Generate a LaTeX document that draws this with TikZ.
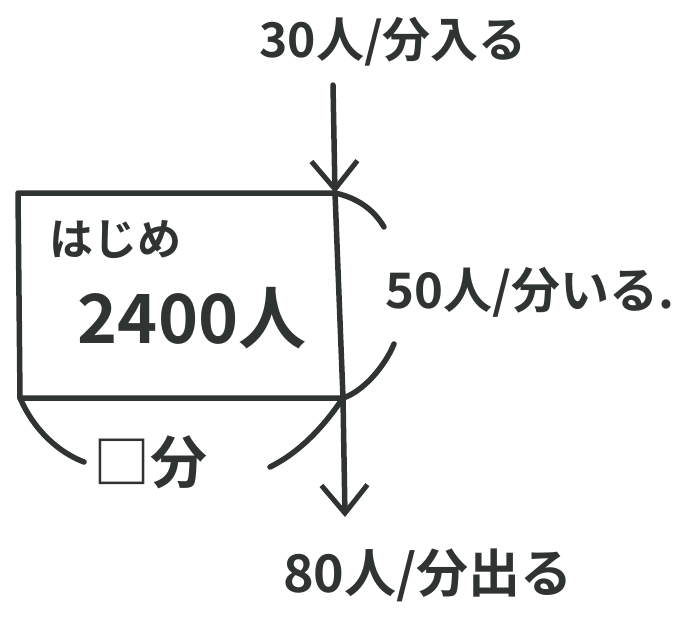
\documentclass[tikz,border=0pt]{standalone}
\usepackage{fontspec}
\setmainfont{Noto Sans CJK JP}[BoldFont={Noto Sans CJK JP Bold}]
\usetikzlibrary{arrows.meta}
\definecolor{ink}{HTML}{2F3432}
\tikzset{
  pen/.style={draw=ink, line width=5.5pt, line cap=round, line join=round},
  barb/.style={-{Straight Barb[length=28pt, width=46pt, line width=5pt]}},
  lbl/.style={text=ink, inner sep=0pt, font=\bfseries},
}
\begin{document}
\begin{tikzpicture}[x=1pt,y=-1pt]
\useasboundingbox (0,0) rectangle (675,627);
\fill[white] (0,0) rectangle (675,627);
% corners of the box
\coordinate (tl) at (18,193);
\coordinate (tr) at (335,193);
\coordinate (br) at (343,398);
\coordinate (bl) at (20,398);
\coordinate (src) at (333,85);
\coordinate (dst) at (345,517);
% box
\draw[pen] (tr) -- (tl) -- (bl) -- (br);
% flow line with arrows
\draw[pen, barb] (src) -- (tr);
\draw[pen] (tr) -- (br);
\draw[pen, barb] (br) -- (dst);
% braces on the right
\coordinate (ra1) at (384,227);
\coordinate (ra2) at (394,344);
\draw[pen] (tr) .. controls (358,198) and (374,210) .. (ra1);
\draw[pen] (ra2) .. controls (384,368) and (362,392) .. (br);
% braces below
\coordinate (la) at (84,462);
\coordinate (rb) at (270,467);
\draw[pen] (bl) .. controls (34,430) and (58,452) .. (la);
\draw[pen] (br) .. controls (320,432) and (296,454) .. (rb);
% labels
\node[lbl] (in) at (393,42) {\fontsize{48}{48}\selectfont 30人/分入る};
\node[lbl] (hj) at (115,240) {\fontsize{44}{44}\selectfont はじめ};
\node[lbl] (n0) at (192,318) {\fontsize{68}{68}\selectfont 2400人};
\node[lbl] (mid) at (530,292) {\fontsize{49}{49}\selectfont 50人/分いる.};
\node[lbl] (tm) at (150,462) {\fontsize{57}{57}\selectfont □分};
\node[lbl] (out) at (428,575) {\fontsize{52}{52}\selectfont 80人/分出る};
\end{tikzpicture}
\end{document}
